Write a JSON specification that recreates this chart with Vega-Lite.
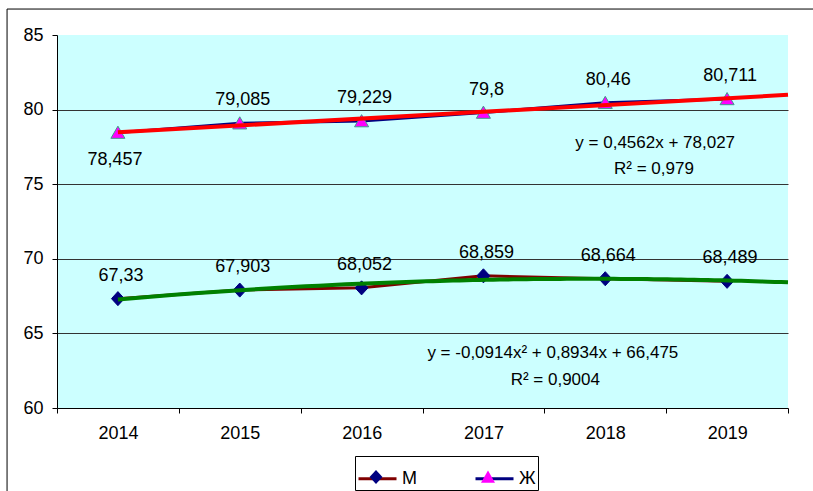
{
  "$schema": "https://vega.github.io/schema/vega-lite/v6.json",
  "width": 731,
  "height": 373,
  "autosize": "none",
  "padding": {"left": 57, "top": 35, "right": 25, "bottom": 83},
  "background": "white",
  "config": {
    "view": {"fill": "#CCFFFF", "stroke": null},
    "font": "Liberation Sans",
    "locale": {"number": {"decimal": ",", "thousands": "\u00a0", "grouping": [3], "currency": ["", ""]}},
    "axis": {"labelFont": "Liberation Sans", "labelFontSize": 18, "labelColor": "black", "domainColor": "black", "tickColor": "black", "tickSize": 5, "title": null}
  },
  "data": {
    "values": [
      {"year": 2014, "s": "М", "v": 67.33},
      {"year": 2015, "s": "М", "v": 67.903},
      {"year": 2016, "s": "М", "v": 68.052},
      {"year": 2017, "s": "М", "v": 68.859},
      {"year": 2018, "s": "М", "v": 68.664},
      {"year": 2019, "s": "М", "v": 68.489},
      {"year": 2014, "s": "Ж", "v": 78.457},
      {"year": 2015, "s": "Ж", "v": 79.085},
      {"year": 2016, "s": "Ж", "v": 79.229},
      {"year": 2017, "s": "Ж", "v": 79.8},
      {"year": 2018, "s": "Ж", "v": 80.46},
      {"year": 2019, "s": "Ж", "v": 80.711}
    ]
  },
  "encoding": {
    "x": {"field": "year", "type": "quantitative",
      "scale": {"domain": [2013.5, 2019.5], "nice": false, "zero": false},
      "axis": {"values": [2013.5, 2014.5, 2015.5, 2016.5, 2017.5, 2018.5, 2019.5], "labelExpr": "datum.value > 2019 ? '' : '' + (datum.value + 0.5)", "labelOffset": 61, "labelFlush": false, "grid": false, "labelPadding": 11}},
    "y": {"field": "v", "type": "quantitative",
      "scale": {"domain": [60, 85], "nice": false, "zero": false},
      "axis": {"values": [60, 65, 70, 75, 80, 85], "grid": true, "gridColor": "#333333", "gridOpacity": {"condition": {"test": "datum.value >= 85 || datum.value <= 60", "value": 0}, "value": 1}, "labelPadding": 9}}
  },
  "resolve": {"scale": {"color": "independent", "shape": "independent"}, "legend": {"color": "independent", "shape": "independent"}},
  "layer": [
    {
      "transform": [{"filter": "datum.year === 2014 && datum.s === 'М'"}],
      "mark": {"type": "rect", "fill": null, "stroke": "black", "strokeWidth": 1},
      "encoding": {
        "x": {"datum": 2013.09}, "x2": {"datum": 2021},
        "y": {"datum": 86.74}, "y2": {"datum": 50}
      }
    },
    {
      "mark": {"type": "line", "strokeWidth": 3},
      "encoding": {
        "color": {"field": "s", "type": "nominal",
          "scale": {"domain": ["М", "Ж"], "range": ["#800000", "#000080"]},
          "legend": {"orient": "none", "legendX": 298, "legendY": 421, "direction": "horizontal", "title": null,
            "symbolType": "stroke", "symbolSize": 1444, "symbolStrokeWidth": 3,
            "labelFont": "Liberation Sans", "labelFontSize": 18, "labelColor": "black", "labelOffset": 4,
            "columnPadding": 52, "strokeColor": "black", "fillColor": "white", "padding": 2}}
      }
    },
    {
      "mark": {"type": "point", "filled": true, "size": 1444, "strokeWidth": 1, "opacity": 1},
      "encoding": {
        "color": {"field": "s", "type": "nominal",
          "scale": {"domain": ["М", "Ж"], "range": ["#000080", "#FF00FF"]},
          "legend": {"orient": "none", "legendX": 298, "legendY": 421, "direction": "horizontal", "title": null,
            "symbolSize": 1444, "symbolStrokeWidth": 0, "symbolOpacity": 1,
            "labelFont": "Liberation Sans", "labelFontSize": 18, "labelColor": "black", "labelOffset": 7, "labelOpacity": 0,
            "columnPadding": 52, "padding": 2}},
        "shape": {"field": "s", "type": "nominal",
          "scale": {"domain": ["М", "Ж"], "range": ["M0,-0.37L0.34,0L0,0.37L-0.34,0Z", "M0,-0.34L0.37,0.3L-0.37,0.3Z"]},
          "legend": {"orient": "none", "legendX": 298, "legendY": 421, "direction": "horizontal", "title": null,
            "symbolSize": 1444, "symbolStrokeWidth": 0, "symbolOpacity": 1,
            "labelFont": "Liberation Sans", "labelFontSize": 18, "labelColor": "black", "labelOffset": 7, "labelOpacity": 0,
            "columnPadding": 52, "padding": 2}},
        "stroke": {"condition": {"test": "datum.s === 'Ж'", "value": "#3F9A8C"}, "value": "#000080"}
      }
    },
    {
      "transform": [
        {"filter": "datum.s === 'Ж'"},
        {"regression": "v", "on": "year", "method": "linear", "extent": [2014, 2019.5]}
      ],
      "mark": {"type": "line", "color": "#FF0000", "strokeWidth": 4}
    },
    {
      "transform": [
        {"filter": "datum.s === 'М'"},
        {"regression": "v", "on": "year", "method": "poly", "order": 2, "extent": [2014, 2019.5]}
      ],
      "mark": {"type": "line", "color": "#008000", "strokeWidth": 4}
    },
    {
      "transform": [{"filter": "!(datum.s === 'Ж' && datum.year === 2014)"}],
      "mark": {"type": "text", "dy": -23, "dx": 3, "fontSize": 18, "font": "Liberation Sans", "color": "black", "baseline": "middle"},
      "encoding": {"text": {"field": "v", "type": "quantitative", "format": ".5~r"}}
    },
    {
      "transform": [{"filter": "datum.s === 'Ж' && datum.year === 2014"}],
      "mark": {"type": "text", "dy": 27, "dx": -3, "fontSize": 18, "font": "Liberation Sans", "color": "black", "baseline": "middle"},
      "encoding": {"text": {"field": "v", "type": "quantitative", "format": ".5~r"}}
    },
    {
      "transform": [{"filter": "datum.year === 2014 && datum.s === 'М'"}],
      "mark": {"type": "text", "fontSize": 17, "font": "Liberation Sans", "color": "black", "baseline": "middle"},
      "encoding": {"x": {"datum": 2018.41}, "y": {"datum": 77.77}, "text": {"value": "y = 0,4562x + 78,027"}}
    },
    {
      "transform": [{"filter": "datum.year === 2014 && datum.s === 'М'"}],
      "mark": {"type": "text", "fontSize": 17, "font": "Liberation Sans", "color": "black", "baseline": "middle"},
      "encoding": {"x": {"datum": 2018.4}, "y": {"datum": 76.03}, "text": {"value": "R² = 0,979"}}
    },
    {
      "transform": [{"filter": "datum.year === 2014 && datum.s === 'М'"}],
      "mark": {"type": "text", "fontSize": 17, "font": "Liberation Sans", "color": "black", "baseline": "middle"},
      "encoding": {"x": {"datum": 2017.57}, "y": {"datum": 63.71}, "text": {"value": "y = -0,0914x² + 0,8934x + 66,475"}}
    },
    {
      "transform": [{"filter": "datum.year === 2014 && datum.s === 'М'"}],
      "mark": {"type": "text", "fontSize": 17, "font": "Liberation Sans", "color": "black", "baseline": "middle"},
      "encoding": {"x": {"datum": 2017.59}, "y": {"datum": 61.88}, "text": {"value": "R² = 0,9004"}}
    }
  ]
}
